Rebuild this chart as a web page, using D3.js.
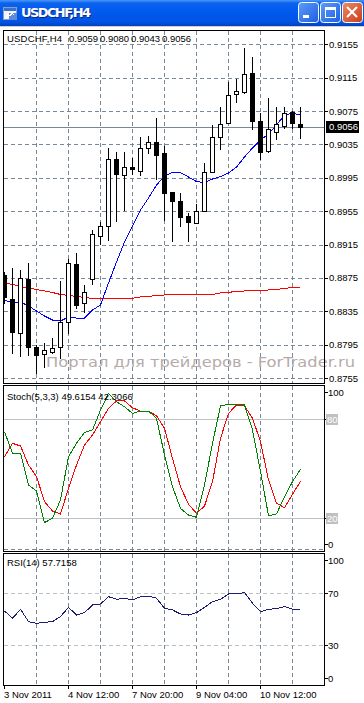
<!DOCTYPE html>
<html>
<head>
<meta charset="utf-8">
<script src="https://cdn.jsdelivr.net/npm/d3@7"></script>
<style>
  body { margin: 0; background: #fff; }
  svg { display: block; font-family: "Liberation Sans", Arial, sans-serif; }
</style>
</head>
<body>
<div id="chart"></div>
<script>
// USDCHF H4 bars, left to right
const openPrices  = [0.8878,0.8850,0.8809,0.8874,0.8792,0.8783,0.8786,0.8792,0.8822,0.8892,0.8845,0.8874,0.8925,0.8937,0.9017,0.8999,0.9008,0.9003,0.9031,0.9038,0.9025,0.8978,0.8967,0.8949,0.8941,0.8955,0.9002,0.9044,0.9061,0.9095,0.9097,0.9121,0.9063,0.9027,0.9051,0.9057,0.9074,0.9059];
const highPrices  = [0.8882,0.8887,0.8884,0.8893,0.8794,0.8797,0.8803,0.8871,0.8898,0.8905,0.8867,0.8932,0.8942,0.9031,0.9026,0.9026,0.9019,0.9044,0.9045,0.9067,0.9033,0.8978,0.8977,0.8953,0.8964,0.9013,0.9058,0.9080,0.9110,0.9113,0.9151,0.9140,0.9073,0.9091,0.9080,0.9080,0.9075,0.9080];
const lowPrices   = [0.8845,0.8785,0.8781,0.8783,0.8761,0.8768,0.8785,0.8779,0.8809,0.8839,0.8834,0.8868,0.8916,0.8920,0.8943,0.8956,0.8999,0.8998,0.9025,0.8993,0.8944,0.8919,0.8937,0.8919,0.8941,0.8955,0.9002,0.9030,0.9061,0.9086,0.9097,0.9053,0.9017,0.9026,0.9041,0.9055,0.9055,0.9043];
const closePrices = [0.8852,0.8810,0.8875,0.8792,0.8783,0.8788,0.8791,0.8822,0.8893,0.8843,0.8858,0.8928,0.8937,0.9017,0.8999,0.9008,0.9006,0.9031,0.9038,0.9023,0.8977,0.8967,0.8948,0.8942,0.8955,0.9002,0.9044,0.9060,0.9094,0.9099,0.9119,0.9063,0.9026,0.9053,0.9060,0.9073,0.9061,0.9056];

// moving averages drawn on the price panel
const maFast = [0.88485,0.88449,0.88461,0.88413,0.88353,0.88293,0.88245,0.88233,0.88281,0.88269,0.88269,0.88365,0.88425,0.88688,0.88940,0.89180,0.89372,0.89564,0.89707,0.89863,0.89971,0.90013,0.90013,0.89959,0.89905,0.89893,0.89935,0.89965,0.90007,0.90079,0.90199,0.90307,0.90403,0.90475,0.90583,0.90702,0.90726,0.90702];
const maSlow = [0.88688,0.88671,0.88647,0.88629,0.88611,0.88593,0.88575,0.88551,0.88539,0.88527,0.88515,0.88505,0.88497,0.88500,0.88503,0.88505,0.88506,0.88521,0.88527,0.88539,0.88545,0.88545,0.88545,0.88545,0.88545,0.88545,0.88551,0.88569,0.88577,0.88587,0.88593,0.88596,0.88601,0.88605,0.88611,0.88623,0.88635,0.88637];

// Stoch(5,3,3)
const stochMain   = [72.3,59.3,59.3,40.1,36.5,17.4,20.0,31.1,57.2,65.3,71.9,73.4,85.4,95.5,90.5,87.4,83.4,84.8,84.8,80.4,58.3,39.1,26.0,22.0,20.6,40.1,65.3,88.0,88.9,88.9,88.5,73.4,48.2,21.6,22.6,33.1,42.1,49.6];
const stochSignal = [57.2,65.3,63.7,52.2,45.2,30.1,24.4,22.6,38.1,52.2,64.3,70.3,78.4,86.4,90.9,90.9,86.8,84.8,84.8,82.0,74.4,56.2,39.1,28.5,23.0,27.4,42.1,68.3,83.4,88.5,88.0,80.4,66.3,43.2,29.1,26.4,34.5,42.3];

// RSI(14)
const rsiValues = [56.4,50.8,57.7,48.2,46.9,47.7,48.2,52.1,59.2,53.3,55.1,61.0,61.8,67.4,65.4,66.2,64.9,67.4,67.9,66.2,58.5,57.2,54.1,53.3,55.1,59.2,63.6,65.4,69.5,69.5,70.5,62.3,55.9,57.7,58.2,59.7,57.9,57.7];

// texts and axis labels
const symbolTitle = 'USDCHF,H4';
const ohlcTitle = ['0.9059', '0.9080', '0.9043', '0.9056'];
const stochTitle = 'Stoch(5,3,3) 49.6154 42.3066';
const rsiTitle = 'RSI(14) 57.7158';
const priceTicks = [0.9155,0.9115,0.9075,0.9035,0.8995,0.8955,0.8915,0.8875,0.8835,0.8795,0.8755];
const timeLabels = ['3 Nov 2011','4 Nov 12:00','7 Nov 20:00','9 Nov 04:00','10 Nov 12:00'];
const timeLabelBars = [0, 8, 16, 24, 32];
const gridBars = [4, 8, 12, 16, 20, 24, 28, 32, 36];
const stochLevels = [80, 20];
const stochLabels = [100, 80, 20, 0];
const rsiLevels = [70, 30];
const rsiLabels = [100, 70, 30, 0];
const lastPrice = 0.9056;

function draw() {
    const dimensions = { width: 364, height: 703 };
    const plot = { left: 3, right: 324 };
    const main = { top: 30, bottom: 383 };
    const stoch = { top: 385, bottom: 551 };
    const rsi = { top: 553, bottom: 685 };
    const gridColor = '#778899';
    const px = v => Math.round(v) + 0.5;

    const xScale = d3.scaleLinear().domain([0, 37]).range([4, 300]);
    const yPrice = d3.scaleLinear().domain([0.8755, 0.9155]).range([378, 44.3]);
    const yStoch = d3.scaleLinear().domain([0, 100]).range([551.4, 385.9]);
    const yRsi = d3.scaleLinear().domain([0, 100]).range([684.3, 554.3]);

    const svg = d3.select('#chart')
        .append('svg')
        .attr('width', dimensions.width)
        .attr('height', dimensions.height)
        .style('shape-rendering', 'crispEdges');

    const defs = svg.append('defs');
    const titleGrad = defs.append('linearGradient').attr('id', 'titleGrad')
        .attr('x1', 0).attr('y1', 0).attr('x2', 0).attr('y2', 1);
    [['0%', '#4a98f8'], ['12%', '#0b62ef'], ['50%', '#0058ee'], ['85%', '#0354e2'], ['100%', '#0040c0']]
        .forEach(s => titleGrad.append('stop').attr('offset', s[0]).attr('stop-color', s[1]));
    const btnGrad = defs.append('linearGradient').attr('id', 'btnGrad')
        .attr('x1', 0).attr('y1', 0).attr('x2', 1).attr('y2', 1);
    [['0%', '#5d9cfb'], ['100%', '#1d5fe0']]
        .forEach(s => btnGrad.append('stop').attr('offset', s[0]).attr('stop-color', s[1]));
    const closeGrad = defs.append('linearGradient').attr('id', 'closeGrad')
        .attr('x1', 0).attr('y1', 0).attr('x2', 1).attr('y2', 1);
    [['0%', '#ee8a66'], ['100%', '#c93d1a']]
        .forEach(s => closeGrad.append('stop').attr('offset', s[0]).attr('stop-color', s[1]));

    // clip areas for the three panels
    [['clipMain', main], ['clipStoch', stoch], ['clipRsi', rsi]].forEach(([id, p]) => {
        defs.append('clipPath').attr('id', id).append('rect')
            .attr('x', plot.left + 1).attr('y', p.top + 1)
            .attr('width', plot.right - plot.left - 1).attr('height', p.bottom - p.top - 1);
    });

    // Window title bar
    const bar = svg.append('g');
    bar.append('rect').attr('x', 0).attr('y', 0).attr('width', 364).attr('height', 26)
        .attr('fill', 'url(#titleGrad)');
    bar.append('rect').attr('x', 0).attr('y', 26).attr('width', 364).attr('height', 1).attr('fill', '#d4d0c8');
    // small chart icon
    bar.append('rect').attr('x', 3.5).attr('y', 7.5).attr('width', 13).attr('height', 12)
        .attr('fill', '#f4f4f4').attr('stroke', '#8aa0c0');
    bar.append('rect').attr('x', 4).attr('y', 8).attr('width', 12).attr('height', 3).attr('fill', '#3a6fd8');
    bar.append('rect').attr('x', 9).attr('y', 13).attr('width', 8).attr('height', 7).attr('fill', '#5a8ad8');
    bar.append('path').attr('d', 'M6,18 L8,14 L10,16 L12,13 L14,15').attr('fill', 'none').attr('stroke', '#fff');
    bar.append('text').attr('x', 22).attr('y', 18).attr('fill', '#0a2a80')
        .style('font', 'bold 13px "DejaVu Sans", sans-serif').attr('textLength', 70).text(symbolTitle);
    bar.append('text').attr('x', 21).attr('y', 17).attr('fill', '#fff')
        .style('font', 'bold 13px "DejaVu Sans", sans-serif').attr('textLength', 70).text(symbolTitle);

    // minimise / maximise / close buttons
    const btn = [{ x: 298, fill: 'url(#btnGrad)' }, { x: 320, fill: 'url(#btnGrad)' }, { x: 342, fill: 'url(#closeGrad)' }];
    bar.selectAll('rect.btn').data(btn).join('rect').classed('btn', true)
        .attr('x', d => d.x + 0.5).attr('y', 2.5).attr('width', 20).attr('height', 20).attr('rx', 3)
        .attr('fill', d => d.fill).attr('stroke', '#fff')
        .style('shape-rendering', 'auto');
    bar.append('rect').attr('x', 303).attr('y', 15).attr('width', 6).attr('height', 3).attr('fill', '#fff');
    bar.append('rect').attr('x', 325.5).attr('y', 7.5).attr('width', 10).attr('height', 10)
        .attr('fill', 'none').attr('stroke', '#fff');
    bar.append('rect').attr('x', 325).attr('y', 7).attr('width', 11).attr('height', 3).attr('fill', '#fff');
    bar.append('path').attr('d', 'M347,7 L357,17 M357,7 L347,17')
        .attr('stroke', '#fff').attr('stroke-width', 2).style('shape-rendering', 'auto');

    // Grids
    const grid = svg.append('g').attr('stroke', gridColor).attr('stroke-dasharray', '4,3');
    [main, stoch, rsi].forEach(p => {
        grid.append('g').selectAll('line').data(gridBars).join('line')
            .attr('x1', d => px(xScale(d))).attr('x2', d => px(xScale(d)))
            .attr('y1', p.top + 1).attr('y2', p.bottom);
    });
    grid.append('g').selectAll('line').data(priceTicks).join('line')
        .attr('x1', plot.left + 1).attr('x2', plot.right)
        .attr('y1', d => px(yPrice(d))).attr('y2', d => px(yPrice(d)));
    grid.append('line').attr('x1', plot.left + 1).attr('x2', plot.right)
        .attr('y1', stoch.bottom - 1.5).attr('y2', stoch.bottom - 1.5);

    // watermark
    svg.append('text').attr('x', 46).attr('y', 367)
        .attr('fill', '#b5abab')
        .style('font', '14.5px "DejaVu Sans", sans-serif')
        .attr('textLength', 309).attr('lengthAdjust', 'spacingAndGlyphs')
        .text('Портал для трейдеров - ForTrader.ru');

    // Price panel
    const mainG = svg.append('g').attr('clip-path', 'url(#clipMain)');
    mainG.append('line').attr('x1', plot.left).attr('x2', plot.right)
        .attr('y1', px(yPrice(lastPrice))).attr('y2', px(yPrice(lastPrice)))
        .attr('stroke', gridColor);

    const maLine = d3.line().x((d, i) => xScale(i) + 0.5).y(d => yPrice(d));
    mainG.append('path').datum(maSlow).attr('d', maLine).attr('fill', 'none').attr('stroke', '#ff0000');
    mainG.append('path').datum(maFast).attr('d', maLine).attr('fill', 'none').attr('stroke', '#0000ff');

    const candles = openPrices.map((o, i) => ({
        i, o, h: highPrices[i], l: lowPrices[i], c: closePrices[i]
    }));
    mainG.selectAll('line.wick').data(candles).join('line').classed('wick', true)
        .attr('x1', d => px(xScale(d.i))).attr('x2', d => px(xScale(d.i)))
        .attr('y1', d => Math.round(yPrice(d.h))).attr('y2', d => Math.round(yPrice(d.l)) + 1)
        .attr('stroke', '#000');
    mainG.selectAll('rect.body').data(candles).join('rect').classed('body', true)
        .attr('x', d => px(xScale(d.i)) - 2)
        .attr('y', d => px(yPrice(Math.max(d.o, d.c))))
        .attr('width', 4)
        .attr('height', d => Math.max(Math.round(Math.abs(yPrice(d.o) - yPrice(d.c))), 1))
        .attr('fill', d => d.c >= d.o ? '#fff' : '#000')
        .attr('stroke', '#000');

    // Stochastic panel
    const stochG = svg.append('g').attr('clip-path', 'url(#clipStoch)');
    stochG.selectAll('line').data(stochLevels).join('line')
        .attr('x1', plot.left + 1).attr('x2', plot.right)
        .attr('y1', d => px(yStoch(d))).attr('y2', d => px(yStoch(d)))
        .attr('stroke', '#c0c0c0');
    const stochLine = d3.line().x((d, i) => xScale(i) + 0.5).y(d => yStoch(d));
    stochG.append('path').datum(stochSignal).attr('d', stochLine).attr('fill', 'none').attr('stroke', '#ff0000');
    stochG.append('path').datum(stochMain).attr('d', stochLine).attr('fill', 'none').attr('stroke', '#008000');

    // RSI panel
    const rsiG = svg.append('g').attr('clip-path', 'url(#clipRsi)');
    rsiG.selectAll('line').data(rsiLevels).join('line')
        .attr('x1', plot.left + 1).attr('x2', plot.right)
        .attr('y1', d => px(yRsi(d))).attr('y2', d => px(yRsi(d)))
        .attr('stroke', '#c0c0c0').attr('stroke-dasharray', '4,3');
    const rsiLine = d3.line().x((d, i) => xScale(i) + 0.5).y(d => yRsi(d));
    rsiG.append('path').datum(rsiValues).attr('d', rsiLine).attr('fill', 'none').attr('stroke', '#1c1c72');

    // Panel frames
    [main, stoch, rsi].forEach(p => {
        svg.append('rect')
            .attr('x', plot.left + 0.5).attr('y', p.top + 0.5)
            .attr('width', plot.right - plot.left).attr('height', p.bottom - p.top)
            .attr('fill', 'none').attr('stroke', '#000');
    });

    // Panel titles
    const label = (x, y, t, len) => {
        const el = svg.append('text').attr('x', x).attr('y', y).attr('fill', '#000')
            .style('font-size', '9.5px').text(t);
        if (len) el.attr('textLength', len);
        return el;
    };
    label(7, 42, symbolTitle, 55);
    ohlcTitle.forEach((t, j) => label(69 + j * 31, 42, t));
    label(7, 400, stochTitle);
    label(7, 566, rsiTitle);

    // Price axis
    const axisG = svg.append('g');
    axisG.selectAll('line').data(priceTicks).join('line')
        .attr('x1', plot.right + 1).attr('x2', plot.right + 4)
        .attr('y1', d => px(yPrice(d))).attr('y2', d => px(yPrice(d)))
        .attr('stroke', '#000');
    axisG.selectAll('text').data(priceTicks).join('text')
        .attr('x', 329).attr('y', d => yPrice(d) + 3.5)
        .style('font-size', '9.5px').text(d => d.toFixed(4));
    axisG.append('rect').attr('x', 326).attr('y', Math.round(yPrice(lastPrice)) - 6)
        .attr('width', 33).attr('height', 12).attr('fill', '#000');
    axisG.append('text').attr('x', 329).attr('y', yPrice(lastPrice) + 3.5)
        .attr('fill', '#fff').style('font-size', '9.5px').text(lastPrice.toFixed(4));

    // Stoch axis
    const clampY = (y, p) => Math.max(p.top + 7, Math.min(p.bottom - 7, y));
    stochLabels.forEach(v => {
        const y = clampY(yStoch(v), stoch);
        axisG.append('line').attr('x1', plot.right + 1).attr('x2', plot.right + 4)
            .attr('y1', px(y)).attr('y2', px(y)).attr('stroke', '#000');
        if (stochLevels.includes(v)) {
            axisG.append('rect').attr('x', 326).attr('y', Math.round(y) - 5)
                .attr('width', 12).attr('height', 11).attr('fill', '#c0c0c0');
            axisG.append('text').attr('x', 327).attr('y', y + 3.5).attr('fill', '#fff')
                .style('font-size', '9.5px').text(v);
        } else {
            axisG.append('text').attr('x', 328).attr('y', y + 3.5)
                .style('font-size', '9.5px').text(v);
        }
    });

    // RSI axis
    rsiLabels.forEach(v => {
        const y = clampY(yRsi(v), rsi);
        axisG.append('line').attr('x1', plot.right + 1).attr('x2', plot.right + 4)
            .attr('y1', px(y)).attr('y2', px(y)).attr('stroke', '#000');
        axisG.append('text').attr('x', 328).attr('y', y + 3.5)
            .style('font-size', '9.5px').text(v);
    });

    // Time axis
    const timeG = svg.append('g');
    timeG.selectAll('line').data(timeLabelBars).join('line')
        .attr('x1', d => px(xScale(d))).attr('x2', d => px(xScale(d)))
        .attr('y1', rsi.bottom + 1).attr('y2', rsi.bottom + 4)
        .attr('stroke', '#000');
    timeG.selectAll('text').data(timeLabelBars).join('text')
        .attr('x', d => xScale(d)).attr('y', 698)
        .style('font-size', '9.5px')
        .text((d, i) => timeLabels[i]);
}

draw();
</script>
</body>
</html>
